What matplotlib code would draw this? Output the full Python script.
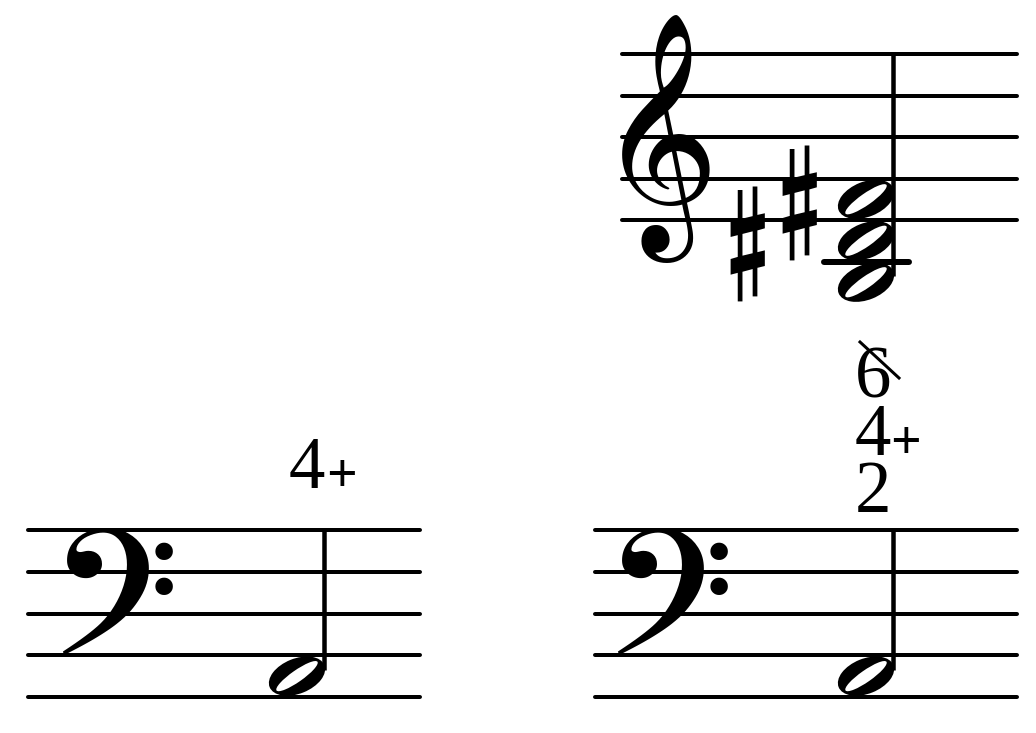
import matplotlib
matplotlib.use("Agg")
import matplotlib.pyplot as plt
from matplotlib.textpath import TextPath
from matplotlib.font_manager import FontProperties
from matplotlib.path import Path
from matplotlib.patches import PathPatch
from matplotlib.transforms import Affine2D

# ---------------- data ----------------
# note positions in staff steps (half-spaces above the bottom staff line)
treble_chord_steps = [1, -1, -3]        # F#4, D#4, B3
treble_sharp_steps = [-1, 1]            # sharps on D and F
bass_left_note_steps = [1]              # A2
bass_right_note_steps = [1]             # A2
figures_left = ["4+"]                   # figured bass, top to bottom
figures_right = ["6\\", "4+", "2"]

# ---------------- layout ----------------
W, H, DPI = 1036, 733, 100
staves = {
    "top":   dict(x0=622, x1=1017, top=54.0, space=41.5, clef="\U0001D11E",
                  clef_box=(622, 707, 15, 263), stem_x=893,
                  notes=treble_chord_steps),
    "left":  dict(x0=28, x1=420, top=530.0, space=41.75, clef="\U0001D122",
                  clef_box=(62, 172, 528, 655), stem_x=324,
                  notes=bass_left_note_steps, figs=figures_left, fig_base=488,
                  fig_dx=-17, plus_dx=34),
    "right": dict(x0=595, x1=1017, top=530.0, space=41.75, clef="\U0001D122",
                  clef_box=(617, 727, 528, 655), stem_x=893,
                  notes=bass_right_note_steps, figs=figures_right, fig_base=512,
                  fig_dx=-20, plus_dx=32),
}
sharp_dx = [-119, -67]       # sharp centre offsets from notehead centre
sharp_height = 115
fig_line_step = 57
digit_height = 48
plus_size = 25

music_fp = FontProperties(family=["Noto Music", "FreeSerif", "DejaVu Sans"])
serif = ["Liberation Serif", "DejaVu Serif"]

def px2pt(px):
    return px * 72.0 / DPI

def step_y(st, step):
    return st["top"] + 4 * st["space"] - step * st["space"] / 2.0

def glyph_fit(ax, ch, x_left, x_right, y_top, y_bottom, center_x=False):
    tp = TextPath((0, 0), ch, size=1, prop=music_fp)
    ext = tp.get_extents()
    em_px = (y_bottom - y_top) / (ext.y1 - ext.y0)
    base_y = y_top + ext.y1 * em_px
    if center_x:
        cx = (x_left + x_right) / 2.0
        x = cx - (ext.x0 + ext.x1) / 2.0 * em_px
    else:
        x = x_left - ext.x0 * em_px
    ax.text(x, base_y, ch, fontproperties=music_fp, fontsize=px2pt(em_px),
            ha="left", va="baseline", color="black")

def notehead(ax, cx, cy):
    circ = Path.unit_circle()
    outer = circ.transformed(Affine2D().scale(29.5, 17.5).rotate_deg(-22).translate(cx, cy))
    inner = circ.transformed(Affine2D().scale(25, -5.8).rotate_deg(-35).translate(cx, cy))
    path = Path.make_compound_path(outer, inner)
    ax.add_patch(PathPatch(path, facecolor="black", edgecolor="none", zorder=3))

fig = plt.figure(figsize=(W / DPI, H / DPI), dpi=DPI)
fig.patch.set_facecolor("white")
ax = fig.add_axes([0, 0, 1, 1])
ax.set_xlim(0, W)
ax.set_ylim(H, 0)
ax.axis("off")
renderer = fig.canvas.get_renderer()

# serif figure sizes from glyph outlines
serif_fp = FontProperties(family=serif)
plus_fp0 = FontProperties(family=serif, weight="bold")
e4 = TextPath((0, 0), "4", size=1, prop=serif_fp).get_extents()
digit_em = digit_height / (e4.y1 - e4.y0)
eplus = TextPath((0, 0), "+", size=1, prop=plus_fp0).get_extents()
plus_em = plus_size / (eplus.x1 - eplus.x0)
plus_fp = FontProperties(family=serif, weight="bold", size=px2pt(plus_em))
digit_fp = FontProperties(family=serif, size=px2pt(digit_em))
_, lp_h, lp_d = renderer.get_text_width_height_descent("lp", digit_fp, ismath=False)
line_spacing = (fig_line_step - lp_d) / (lp_h - lp_d)

for name, st in staves.items():
    # staff lines
    for i in range(5):
        y = st["top"] + i * st["space"]
        ax.plot([st["x0"], st["x1"]], [y, y], color="black", lw=px2pt(4),
                solid_capstyle="round", zorder=1)
    # clef
    bx0, bx1, by0, by1 = st["clef_box"]
    glyph_fit(ax, st["clef"], bx0, bx1, by0, by1)
    # notes
    stem_x = st["stem_x"]
    head_x = stem_x - 27
    ys = [step_y(st, s) for s in st["notes"]]
    for s, y in zip(st["notes"], ys):
        notehead(ax, head_x, y)
        if s <= -2:   # ledger lines below the staff
            for ls in range(-2, s - 1, -2):
                ly = step_y(st, ls)
                ax.plot([head_x - 42, head_x + 43], [ly, ly], color="black",
                        lw=px2pt(6), solid_capstyle="round", zorder=2)
    ax.plot([stem_x, stem_x], [max(ys) - 6, st["top"]], color="black",
            lw=px2pt(4.5), solid_capstyle="butt", zorder=4)
    # sharps
    if name == "top":
        for s, dx in zip(treble_sharp_steps, sharp_dx):
            cy = step_y(st, s) + 3
            glyph_fit(ax, "\u266F", head_x + dx - 22, head_x + dx + 22,
                      cy - sharp_height / 2, cy + sharp_height / 2, center_x=True)
    # figured bass
    if "figs" in st:
        figs = st["figs"]
        n = len(figs)
        fx = stem_x + st["fig_dx"]
        first_base = st["fig_base"] - (n - 1) * fig_line_step
        # multi-line text: va="baseline" aligns the last line's baseline
        ax.text(fx, st["fig_base"], "\n".join(f[0] for f in figs),
                fontproperties=digit_fp, linespacing=line_spacing,
                ha="center", va="baseline", multialignment="center",
                color="black", zorder=5)
        for k, f in enumerate(figs):
            base = first_base + k * fig_line_step
            if f.endswith("+"):
                pcx = fx + st["plus_dx"]
                pcy = base - 15
                ax.text(pcx, pcy + (eplus.y0 + eplus.y1) / 2 * plus_em, "+",
                        fontproperties=plus_fp,
                        ha="center", va="baseline", color="black", zorder=5)
            if f.endswith("\\"):
                ax.plot([fx - 13, fx + 26], [base - 56, base - 20],
                        color="black", lw=px2pt(3), zorder=6)

fig.savefig("out.png", dpi=DPI, facecolor="white")
